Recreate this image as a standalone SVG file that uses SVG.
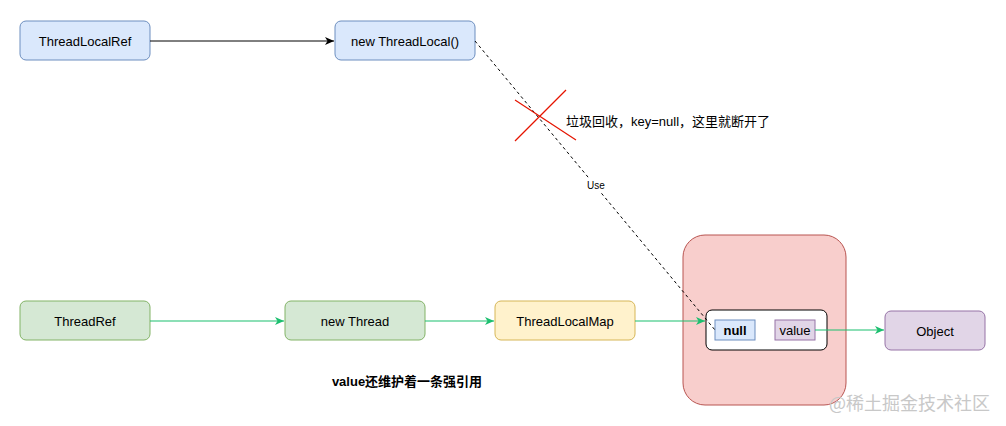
<svg xmlns="http://www.w3.org/2000/svg" width="1006" height="426" viewBox="0 0 1006 426">
<style>
text{font-family:"Liberation Sans",Arial,sans-serif;font-size:13px;fill:#000;text-anchor:middle;dominant-baseline:central}
.blue{fill:#dae8fc;stroke:#6c8ebf}
.green{fill:#d5e8d4;stroke:#82b366}
.yel{fill:#fff2cc;stroke:#d6b656}
.pur{fill:#e1d5e7;stroke:#9673a6}
.g{stroke:#1bbf6f;stroke-width:1.2;fill:none}
</style>
<defs>
<marker id="ab" markerWidth="10" markerHeight="10" refX="9" refY="5" orient="auto" markerUnits="userSpaceOnUse"><path d="M0,1 L9,5 L0,9 L2.5,5 Z" fill="#000"/></marker>
<marker id="ag" markerWidth="10" markerHeight="10" refX="9" refY="5" orient="auto" markerUnits="userSpaceOnUse"><path d="M0,1 L9,5 L0,9 L2.5,5 Z" fill="#1bbf6f"/></marker>
</defs>
<rect width="1006" height="426" fill="#fff"/>
<g id="n-container"><rect x="683" y="235" width="163" height="170" rx="22" fill="#f8cecc" stroke="#b85450"/></g>
<g id="n-entry"><rect x="706" y="310" width="121" height="40" rx="6" fill="#fff" stroke="#000"/></g>
<g id="n-null"><rect class="blue" x="715" y="320" width="40" height="20"/><text x="735" y="330" font-weight="bold">null</text></g>
<g id="n-value"><rect class="pur" x="775" y="320" width="40" height="20"/><text x="795" y="330">value</text></g>
<g id="n-tlr"><rect class="blue" x="20" y="21" width="130" height="39" rx="6"/><text x="85" y="41">ThreadLocalRef</text></g>
<g id="n-tl"><rect class="blue" x="335" y="21" width="140" height="39" rx="6"/><text x="405" y="41">new ThreadLocal()</text></g>
<g id="n-tr"><rect class="green" x="20" y="301" width="130" height="39" rx="6"/><text x="85" y="321">ThreadRef</text></g>
<g id="n-t"><rect class="green" x="285" y="301" width="140" height="39" rx="6"/><text x="355" y="321">new Thread</text></g>
<g id="n-tlm"><rect class="yel" x="495" y="301" width="140" height="39" rx="6"/><text x="565" y="321">ThreadLocalMap</text></g>
<g id="n-obj"><rect class="pur" x="885" y="311" width="100" height="39" rx="6"/><text x="935" y="331">Object</text></g>
<g id="connectors">
<line x1="150" y1="41" x2="334" y2="41" stroke="#000" marker-end="url(#ab)"/>
<line x1="150" y1="321" x2="284" y2="321" class="g" marker-end="url(#ag)"/>
<line x1="425" y1="321" x2="494" y2="321" class="g" marker-end="url(#ag)"/>
<line x1="635" y1="321" x2="705" y2="321" class="g" marker-end="url(#ag)"/>
<line x1="815" y1="330" x2="884" y2="330" class="g" marker-end="url(#ag)"/>
<line x1="475" y1="41" x2="715" y2="330" stroke="#000" stroke-dasharray="3 3"/>
<rect x="585" y="179" width="22" height="12" fill="#fff"/>
<text x="596" y="185" style="font-size:10px">Use</text>
</g>
<g id="cross" stroke="#e51400" stroke-width="1.2">
<line x1="515" y1="100" x2="576" y2="140"/>
<line x1="566" y1="90" x2="515" y2="141"/>
</g>
<text x="566" y="121" style="text-anchor:start;font-family:'Liberation Sans','Noto Sans CJK SC',sans-serif">垃圾回收，key=null，这里就断开了</text>
<text x="407" y="381" font-weight="bold" style="font-family:'Liberation Sans','Noto Sans CJK SC',sans-serif">value还维护着一条强引用</text>
<text x="990" y="402" style="font-size:18px;text-anchor:end;fill:#c8c8c8;font-family:'Noto Sans CJK SC',sans-serif">@稀土掘金技术社区</text>
</svg>
